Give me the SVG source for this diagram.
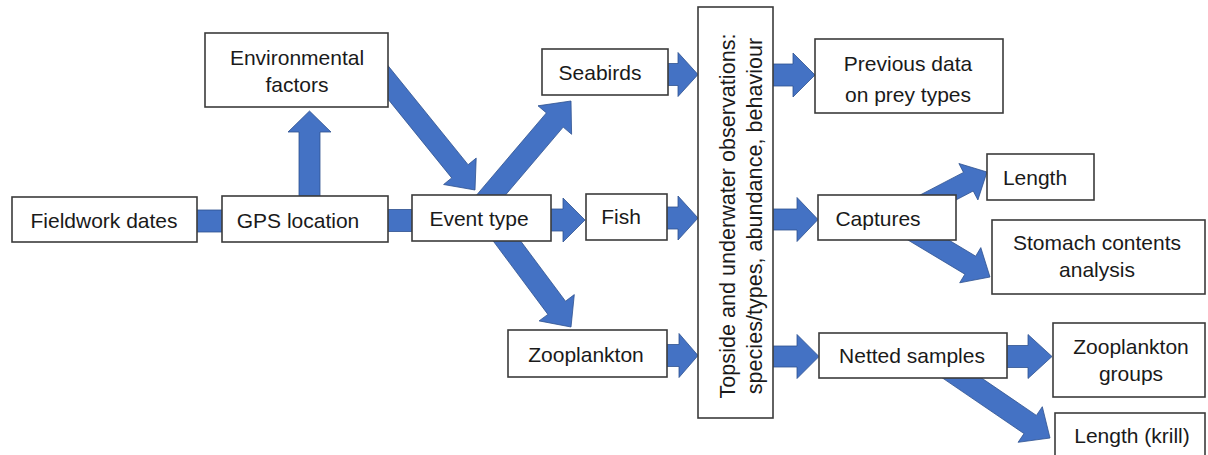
<svg xmlns="http://www.w3.org/2000/svg" width="1208" height="455" viewBox="0 0 1208 455">
<style>
.box{fill:#ffffff;stroke:#3b3b3b;stroke-width:1.6}
.arr{fill:#4472C4;stroke:#2F528F;stroke-width:0.8;stroke-linejoin:miter}
text{font-family:"Liberation Sans",Arial,sans-serif;font-size:21px;fill:#1a1a1a;text-anchor:middle}
.rot{font-size:21.6px}
</style>
<rect width="1208" height="455" fill="#ffffff"/>
<g id="connectors">
<rect class="arr" x="195" y="210" width="30" height="22"/>
<rect class="arr" x="386" y="209.5" width="28" height="22"/>
<polygon class="arr" points="299,196 299,132 288,132 309.5,111 331,132 320,132 320,196"/>
<polygon class="arr" points="363.8,69.2 451.7,177.9 443.6,184.5 475,190 476.2,158.1 468.1,164.7 380.2,56"/>
<polygon class="arr" points="488.4,215.1 563.2,127.1 571.6,134.3 571,101 538,105.8 546.4,112.9 471.6,200.9"/>
<polygon class="arr" points="486.2,231.6 547.9,314.4 539.1,320.9 571,327 574.3,294.6 565.5,301.2 503.8,218.4"/>
<polygon class="arr" points="545,209 563,209 563,198 585,220 563,242 563,231 545,231"/>
<polygon class="arr" points="664,63.5 678,63.5 678,52.5 698,74.5 678,96.5 678,85.5 664,85.5"/>
<polygon class="arr" points="663,207 678,207 678,196 698,218 678,240 678,229 663,229"/>
<polygon class="arr" points="663,344.5 679,344.5 679,333.5 698,355.5 679,377.5 679,366.5 663,366.5"/>
<polygon class="arr" points="770,64 793,64 793,53 815,75 793,97 793,86 770,86"/>
<polygon class="arr" points="770,209 797,209 797,197.5 818,219.5 797,241.5 797,230 770,230"/>
<polygon class="arr" points="770,346 797,346 797,334.5 819,356.5 797,378.5 797,367 770,367"/>
<polygon class="arr" points="1003,345.5 1028,345.5 1028,334.5 1052,356.5 1028,378.5 1028,367.5 1003,367.5"/>
<polygon class="arr" points="920.9,218.3 973.2,191 977.9,199.9 987,172 958.9,163.5 963.5,172.4 911.1,199.7"/>
<polygon class="arr" points="904.6,238 964.9,274.2 959.7,282.8 990,277 980.8,247.6 975.7,256.2 915.4,220"/>
<polygon class="arr" points="933.8,372.1 1024,433.6 1018.1,442.3 1050,438 1042.3,406.7 1036.4,415.4 946.2,353.9"/>
</g>
<g id="fieldwork-dates"><rect class="box" x="12" y="197" width="185" height="45"/><text x="104" y="228">Fieldwork dates</text></g>
<g id="gps-location"><rect class="box" x="222" y="196" width="166" height="46"/><text x="298" y="228">GPS location</text></g>
<g id="environmental-factors"><rect class="box" x="205" y="33" width="183" height="74"/><text x="297" y="65">Environmental</text><text x="297" y="92">factors</text></g>
<g id="event-type"><rect class="box" x="412" y="195" width="139" height="46"/><text x="479" y="226">Event type</text></g>
<g id="seabirds"><rect class="box" x="542" y="49" width="126" height="46"/><text x="600" y="80">Seabirds</text></g>
<g id="fish"><rect class="box" x="586" y="194" width="81" height="46"/><text x="621" y="224">Fish</text></g>
<g id="zooplankton"><rect class="box" x="508" y="330" width="159" height="47"/><text x="586" y="362">Zooplankton</text></g>
<g id="observations"><rect class="box" x="698" y="7" width="75" height="411"/><text class="rot" transform="translate(735,216) rotate(-90)">Topside and underwater observations:</text><text class="rot" transform="translate(762,216) rotate(-90)">species/types, abundance, behaviour</text></g>
<g id="previous-data"><rect class="box" x="815" y="39" width="188" height="74"/><text x="908" y="71">Previous data</text><text x="908" y="102">on prey types</text></g>
<g id="captures"><rect class="box" x="818" y="195" width="138" height="45"/><text x="878" y="226">Captures</text></g>
<g id="length"><rect class="box" x="987" y="154" width="107" height="46"/><text x="1035" y="185">Length</text></g>
<g id="stomach-contents"><rect class="box" x="992" y="220" width="213" height="74"/><text x="1097" y="250">Stomach contents</text><text x="1097" y="277">analysis</text></g>
<g id="netted-samples"><rect class="box" x="819" y="333" width="188" height="45"/><text x="912" y="363">Netted samples</text></g>
<g id="zooplankton-groups"><rect class="box" x="1053" y="323" width="152" height="74"/><text x="1131" y="354">Zooplankton</text><text x="1131" y="381">groups</text></g>
<g id="length-krill"><rect class="box" x="1055" y="413" width="150" height="50"/><text x="1132" y="443">Length (krill)</text></g>
</svg>
